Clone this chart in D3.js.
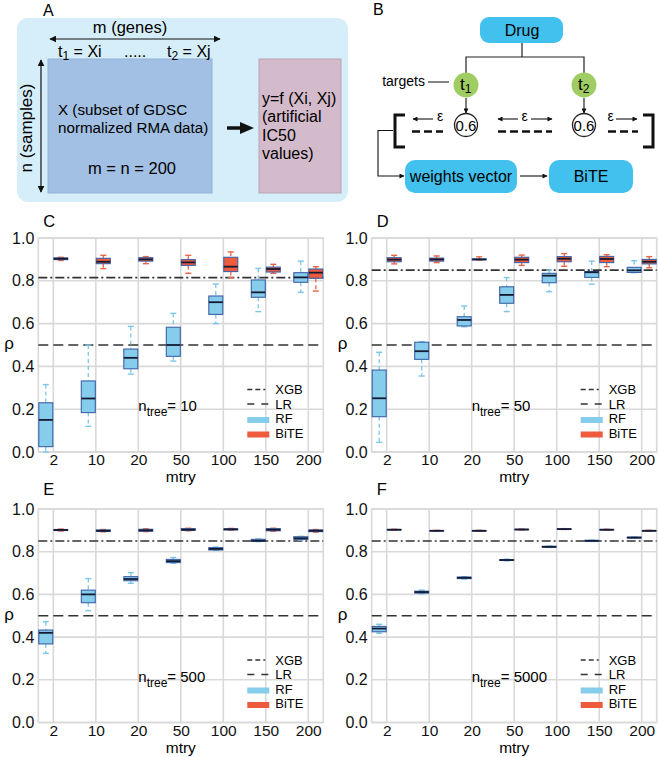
<!DOCTYPE html>
<html><head><meta charset="utf-8">
<script src="https://cdn.jsdelivr.net/npm/d3@7"></script>
<style>body{margin:0;background:#fff}svg{display:block;font-family:"Liberation Sans",Arial,Helvetica,sans-serif}</style>
</head><body>
<svg id="fig" width="658" height="757"></svg>
<script>
// ---------------- DATA ----------------
const mtry = ["2","10","20","50","100","150","200"];
const yTicks = [0,0.2,0.4,0.6,0.8,1.0];
const panelLetters = ["C","D","E","F"];
const ntreeLabels = ["10","50","500","5000"];
const xgbLevel = [0.815,0.85,0.85,0.85];
const lrLevel = [0.5,0.5,0.5,0.5];
const legendItems = ["XGB","LR","RF","BiTE"];
// box stats: [min, q1, median, q3, max]
const rfC = [[0.00,0.025,0.15,0.23,0.315],[0.12,0.184,0.25,0.332,0.50],[0.364,0.389,0.44,0.481,0.587],[0.425,0.447,0.50,0.583,0.648],[0.60,0.643,0.70,0.729,0.785],[0.656,0.723,0.746,0.804,0.858],[0.746,0.793,0.816,0.838,0.892]];
const biteC = [[0.895,0.899,0.903,0.907,0.91],[0.857,0.880,0.889,0.905,0.919],[0.88,0.892,0.90,0.908,0.913],[0.835,0.872,0.886,0.899,0.919],[0.815,0.843,0.866,0.91,0.935],[0.835,0.841,0.855,0.864,0.877],[0.752,0.812,0.838,0.855,0.866]];
const rfD = [[0.045,0.165,0.251,0.383,0.466],[0.355,0.433,0.471,0.513,0.515],[0.585,0.589,0.617,0.632,0.682],[0.656,0.695,0.734,0.772,0.815],[0.749,0.791,0.824,0.835,0.85],[0.784,0.816,0.84,0.843,0.892],[0.838,0.839,0.849,0.863,0.894]];
const biteD = [[0.879,0.889,0.899,0.908,0.919],[0.885,0.892,0.90,0.906,0.916],[0.897,0.898,0.90,0.902,0.912],[0.872,0.885,0.899,0.91,0.92],[0.868,0.889,0.903,0.913,0.927],[0.866,0.885,0.902,0.914,0.922],[0.861,0.879,0.889,0.90,0.913]];
const rfE = [[0.324,0.368,0.42,0.433,0.472],[0.524,0.561,0.60,0.62,0.674],[0.652,0.664,0.672,0.683,0.702],[0.746,0.749,0.756,0.764,0.773],[0.806,0.808,0.813,0.819,0.822],[0.847,0.849,0.851,0.858,0.86],[0.855,0.858,0.863,0.87,0.872]];
const biteE = [[0.897,0.899,0.902,0.904,0.906],[0.893,0.895,0.898,0.902,0.904],[0.894,0.896,0.90,0.905,0.907],[0.898,0.90,0.903,0.908,0.91],[0.901,0.902,0.905,0.907,0.909],[0.896,0.898,0.903,0.908,0.91],[0.892,0.894,0.898,0.902,0.904]];
const rfF = [[0.418,0.425,0.44,0.45,0.46],[0.603,0.606,0.611,0.615,0.62],[0.672,0.674,0.678,0.681,0.683],[0.757,0.759,0.761,0.763,0.765],[0.82,0.821,0.823,0.825,0.826],[0.848,0.849,0.851,0.853,0.854],[0.863,0.864,0.866,0.868,0.869]];
const biteF = [[0.901,0.902,0.903,0.904,0.905],[0.896,0.897,0.898,0.899,0.900],[0.896,0.897,0.898,0.899,0.900],[0.902,0.903,0.904,0.905,0.906],[0.904,0.905,0.906,0.907,0.908],[0.901,0.902,0.903,0.904,0.905],[0.896,0.897,0.898,0.899,0.900]];
const rfSets = [rfC, rfD, rfE, rfF];
const biteSets = [biteC, biteD, biteE, biteF];

// ---------------- LAYOUT ----------------
const layout = [
  {x0:38.3, x1:323.3, yb:452, yt:238, letterY:227},
  {x0:371.7, x1:656.7, yb:452, yt:238, letterY:227},
  {x0:38.3, x1:323.3, yb:722.5, yt:509, letterY:495},
  {x0:371.7, x1:656.7, yb:722.5, yt:509, letterY:495}
];
const C = {grid:"#d9d9d9", rfFill:"#86cdec", rfWhisk:"#7cc6e8", boxStroke:"#3d62a8",
           biteFill:"#ee5a3c", biteWhisk:"#ea6446", median:"#151a33", ref:"#333"};

const svg = d3.select("#fig");
const defs = svg.append("defs");
defs.append("marker").attr("id","ah").attr("viewBox","0 0 10 10").attr("refX",9).attr("refY",5)
  .attr("markerWidth",7).attr("markerHeight",7).attr("markerUnits","userSpaceOnUse").attr("orient","auto-start-reverse")
  .append("path").attr("d","M0,0L10,5L0,10z").attr("fill","#111");
defs.append("marker").attr("id","ahs").attr("viewBox","0 0 10 10").attr("refX",9).attr("refY",5)
  .attr("markerWidth",6).attr("markerHeight",5).attr("markerUnits","userSpaceOnUse").attr("orient","auto-start-reverse")
  .append("path").attr("d","M0,0L10,5L0,10z").attr("fill","#111");

// ---------------- PANEL A ----------------
const A = svg.append("g");
A.append("text").attr("x",43).attr("y",16).attr("font-size",16).text("A");
A.append("rect").attr("x",17).attr("y",18).attr("width",331).attr("height",184).attr("rx",11).attr("fill","#d5eef9");
A.append("rect").attr("x",48).attr("y",59).attr("width",164).attr("height",134).attr("fill","#a2c0e3").attr("stroke","#93b2d8");
A.append("rect").attr("x",259).attr("y",59).attr("width",82).attr("height",134).attr("fill","#d4bbcb").attr("stroke","#b9a3b3");
A.append("text").attr("x",130).attr("y",33).attr("text-anchor","middle").attr("font-size",16.5).text("m (genes)");
A.append("line").attr("x1",50).attr("x2",220).attr("y1",39).attr("y2",39).attr("stroke","#111").attr("stroke-width",1.2)
  .attr("marker-start","url(#ah)").attr("marker-end","url(#ah)");
function tsub(g, x, y, main, sub, rest, fs){
  const t = g.append("text").attr("x",x).attr("y",y).attr("font-size",fs);
  t.append("tspan").text(main);
  t.append("tspan").attr("font-size",fs*0.75).attr("dy",3).text(sub);
  if(rest) t.append("tspan").attr("dy",-3).text(rest);
  return t;
}
tsub(A,58,57,"t","1"," = Xi",16);
A.append("text").attr("x",124).attr("y",57).attr("font-size",16).text(".....");
tsub(A,167,57,"t","2"," = Xj",16);
A.append("line").attr("x1",41).attr("x2",41).attr("y1",60).attr("y2",192).attr("stroke","#111").attr("stroke-width",1.2)
  .attr("marker-start","url(#ah)").attr("marker-end","url(#ah)");
A.append("text").attr("transform","translate(32,128) rotate(-90)").attr("text-anchor","middle").attr("font-size",17).text("n (samples)");
A.append("text").attr("x",58).attr("y",114.5).attr("font-size",15.2).text("X (subset of GDSC");
A.append("text").attr("x",58).attr("y",132.5).attr("font-size",15.2).text("normalized RMA data)");
A.append("text").attr("x",132).attr("y",174).attr("text-anchor","middle").attr("font-size",16.5).text("m = n = 200");
A.append("line").attr("x1",227).attr("x2",243).attr("y1",128).attr("y2",128).attr("stroke","#111").attr("stroke-width",3.5);
A.append("path").attr("d","M240,122L254,128L240,134z").attr("fill","#111");
[["y=f (Xi, Xj)",104],["(artificial",122],["IC50",141],["values)",159]].forEach(d=>
  A.append("text").attr("x",262).attr("y",d[1]).attr("font-size",16).text(d[0]));

// ---------------- PANEL B ----------------
const B = svg.append("g");
const blue = "#42c0ee", green = "#9fcd63";
B.append("text").attr("x",373).attr("y",15).attr("font-size",16).text("B");
B.append("rect").attr("x",480).attr("y",17).attr("width",83).attr("height",26).attr("rx",9).attr("fill",blue);
B.append("text").attr("x",522).attr("y",35.5).attr("text-anchor","middle").attr("font-size",16).text("Drug");
B.append("path").attr("d","M522,43V57M466,73V57H584V73").attr("fill","none").attr("stroke","#222").attr("stroke-width",1.2);
[[466,"1"],[584,"2"]].forEach(d=>{
  B.append("circle").attr("cx",d[0]).attr("cy",85).attr("r",12.5).attr("fill",green);
  const t = B.append("text").attr("x",d[0]-6).attr("y",90).attr("font-size",17);
  t.append("tspan").text("t");
  t.append("tspan").attr("font-size",12).attr("dy",3).text(d[1]);
  B.append("line").attr("x1",d[0]).attr("x2",d[0]).attr("y1",98).attr("y2",113).attr("stroke","#111").attr("stroke-width",1.1).attr("marker-end","url(#ahs)");
  B.append("circle").attr("cx",d[0]).attr("cy",125).attr("r",11.5).attr("fill","#fff").attr("stroke","#222").attr("stroke-width",1.3);
  B.append("text").attr("x",d[0]).attr("y",130.5).attr("text-anchor","middle").attr("font-size",15).text("0.6");
});
B.append("text").attr("x",425).attr("y",86).attr("text-anchor","end").attr("font-size",14).text("targets");
B.append("line").attr("x1",428).attr("x2",449).attr("y1",82).attr("y2",82).attr("stroke","#222").attr("stroke-width",1.1);
B.append("path").attr("d","M405,115H395V147H405").attr("fill","none").attr("stroke","#111").attr("stroke-width",3);
B.append("path").attr("d","M643,115H653V147H643").attr("fill","none").attr("stroke","#111").attr("stroke-width",3);
[[412,443],[498,552],[608,638]].forEach(d=>
  B.append("line").attr("x1",d[0]).attr("x2",d[1]).attr("y1",131.5).attr("y2",131.5).attr("stroke","#111").attr("stroke-width",2.5).attr("stroke-dasharray","8,4"));
function arrow(x1,x2,y){ B.append("line").attr("x1",x1).attr("x2",x2).attr("y1",y).attr("y2",y).attr("stroke","#111").attr("stroke-width",1.1).attr("marker-end","url(#ahs)"); }
arrow(433,413,119); arrow(518,498,119); arrow(531,552,119); arrow(616,637,119);
[[440,"ε"],[524.5,"ε"],[610.5,"ε"]].forEach(d=>
  B.append("text").attr("x",d[0]).attr("y",121).attr("text-anchor","middle").attr("font-size",14).text(d[1]));
B.append("path").attr("d","M393,130.5H378V176H404").attr("fill","none").attr("stroke","#111").attr("stroke-width",1.1).attr("marker-end","url(#ahs)");
B.append("rect").attr("x",405).attr("y",160).attr("width",112).attr("height",33).attr("rx",10).attr("fill",blue);
B.append("text").attr("x",461).attr("y",182).attr("text-anchor","middle").attr("font-size",16).text("weights vector");
B.append("line").attr("x1",520).attr("x2",547).attr("y1",176).attr("y2",176).attr("stroke","#111").attr("stroke-width",1.1).attr("marker-end","url(#ahs)");
B.append("rect").attr("x",549).attr("y",160).attr("width",84).attr("height",33).attr("rx",10).attr("fill",blue);
B.append("text").attr("x",591).attr("y",182).attr("text-anchor","middle").attr("font-size",16).text("BiTE");

// ---------------- PANELS C-F ----------------
layout.forEach((L, p) => {
  const g = svg.append("g");
  const x = d3.scalePoint().domain(mtry).range([L.x0, L.x1]).padding(0.353);
  const y = d3.scaleLinear().domain([0,1]).range([L.yb, L.yt]);
  // grid
  g.selectAll(".hg").data(yTicks).join("line").attr("x1",L.x0).attr("x2",L.x1)
    .attr("y1",d=>y(d)).attr("y2",d=>y(d)).attr("stroke",C.grid).attr("stroke-width",1.6);
  g.selectAll(".vg").data(mtry).join("line").attr("x1",d=>x(d)).attr("x2",d=>x(d))
    .attr("y1",L.yt).attr("y2",L.yb).attr("stroke",C.grid).attr("stroke-width",1.6);
  g.append("rect").attr("x",L.x0).attr("y",L.yt).attr("width",L.x1-L.x0).attr("height",L.yb-L.yt)
    .attr("fill","none").attr("stroke",C.grid).attr("stroke-width",1.6);
  // axes text
  const yAxis = d3.axisLeft(y).tickValues(yTicks).tickFormat(d3.format(".1f")).tickSize(0).tickPadding(4);
  const ya = g.append("g").attr("transform",`translate(${L.x0},0)`).call(yAxis);
  ya.select(".domain").remove();
  ya.selectAll("text").attr("font-size",16).attr("font-family","Liberation Sans, Arial, sans-serif").attr("fill","#111");
  const xAxis = d3.axisBottom(x).tickSize(0).tickPadding(2);
  const xa = g.append("g").attr("transform",`translate(0,${L.yb})`).call(xAxis);
  xa.select(".domain").remove();
  xa.selectAll("text").attr("font-size",15.5).attr("font-family","Liberation Sans, Arial, sans-serif").attr("fill","#111");
  g.append("text").attr("x",(L.x0+L.x1)/2).attr("y",L.yb+30).attr("text-anchor","middle").attr("font-size",15.5).text("mtry");
  g.append("text").attr("x",L.x0-34).attr("y",(L.yb+L.yt)/2+4).attr("font-size",17).text("ρ");
  g.append("text").attr("x",L.x0+5).attr("y",L.letterY).attr("font-size",16.5).text(panelLetters[p]);
  // reference lines
  g.append("line").attr("x1",L.x0).attr("x2",L.x1).attr("y1",y(xgbLevel[p])).attr("y2",y(xgbLevel[p]))
    .attr("stroke",C.ref).attr("stroke-width",1.6).attr("stroke-dasharray","9,3,2,3");
  g.append("line").attr("x1",L.x0).attr("x2",L.x1).attr("y1",y(lrLevel[p])).attr("y2",y(lrLevel[p]))
    .attr("stroke",C.ref).attr("stroke-width",1.6).attr("stroke-dasharray","10,5");
  // boxes
  const bw = 14, cap = 6;
  function boxes(data, off, fill, wcol){
    const bg = g.append("g");
    data.forEach((s,i)=>{
      const cx = x(mtry[i]) + off;
      bg.append("line").attr("x1",cx).attr("x2",cx).attr("y1",y(s[4])).attr("y2",y(s[3])).attr("stroke",wcol).attr("stroke-width",1.3).attr("stroke-dasharray","4,3");
      bg.append("line").attr("x1",cx).attr("x2",cx).attr("y1",y(s[1])).attr("y2",y(s[0])).attr("stroke",wcol).attr("stroke-width",1.3).attr("stroke-dasharray","4,3");
      [s[0],s[4]].forEach(v=>bg.append("line").attr("x1",cx-cap/2).attr("x2",cx+cap/2).attr("y1",y(v)).attr("y2",y(v)).attr("stroke",wcol).attr("stroke-width",1.4));
      bg.append("rect").attr("x",cx-bw/2).attr("y",y(s[3])).attr("width",bw).attr("height",Math.max(0.5,y(s[1])-y(s[3])))
        .attr("fill",fill).attr("stroke",C.boxStroke).attr("stroke-width",1.1);
      bg.append("line").attr("x1",cx-bw/2).attr("x2",cx+bw/2).attr("y1",y(s[2])).attr("y2",y(s[2])).attr("stroke",C.median).attr("stroke-width",1.8);
    });
  }
  boxes(rfSets[p], -7.5, C.rfFill, C.rfWhisk);
  boxes(biteSets[p], 7.5, C.biteFill, C.biteWhisk);
  // n_tree label
  const nt = g.append("text").attr("x",L.x0+100).attr("y",L.yb-41).attr("font-size",15);
  nt.append("tspan").text("n");
  nt.append("tspan").attr("font-size",12).attr("dy",5).text("tree");
  nt.append("tspan").attr("dy",-5).text("= "+ntreeLabels[p]);
  // legend
  const lx = L.x1-76, tx = L.x1-48;
  const lg = g.append("g").attr("font-size",13);
  lg.append("line").attr("x1",lx).attr("x2",lx+21).attr("y1",L.yb-62.5).attr("y2",L.yb-62.5).attr("stroke",C.ref).attr("stroke-width",1.5).attr("stroke-dasharray","5,3,5,3,2");
  lg.append("line").attr("x1",lx).attr("x2",lx+21).attr("y1",L.yb-48).attr("y2",L.yb-48).attr("stroke",C.ref).attr("stroke-width",1.5).attr("stroke-dasharray","7,7,7");
  lg.append("rect").attr("x",lx).attr("y",L.yb-35).attr("width",22).attr("height",6).attr("fill",C.rfFill);
  lg.append("rect").attr("x",lx).attr("y",L.yb-20.5).attr("width",22).attr("height",6).attr("fill",C.biteFill);
  [[legendItems[0],-58],[legendItems[1],-43.5],[legendItems[2],-29],[legendItems[3],-14.5]].forEach(d=>
    lg.append("text").attr("x",tx).attr("y",L.yb+d[1]).text(d[0]));
});
</script>
</body></html>
